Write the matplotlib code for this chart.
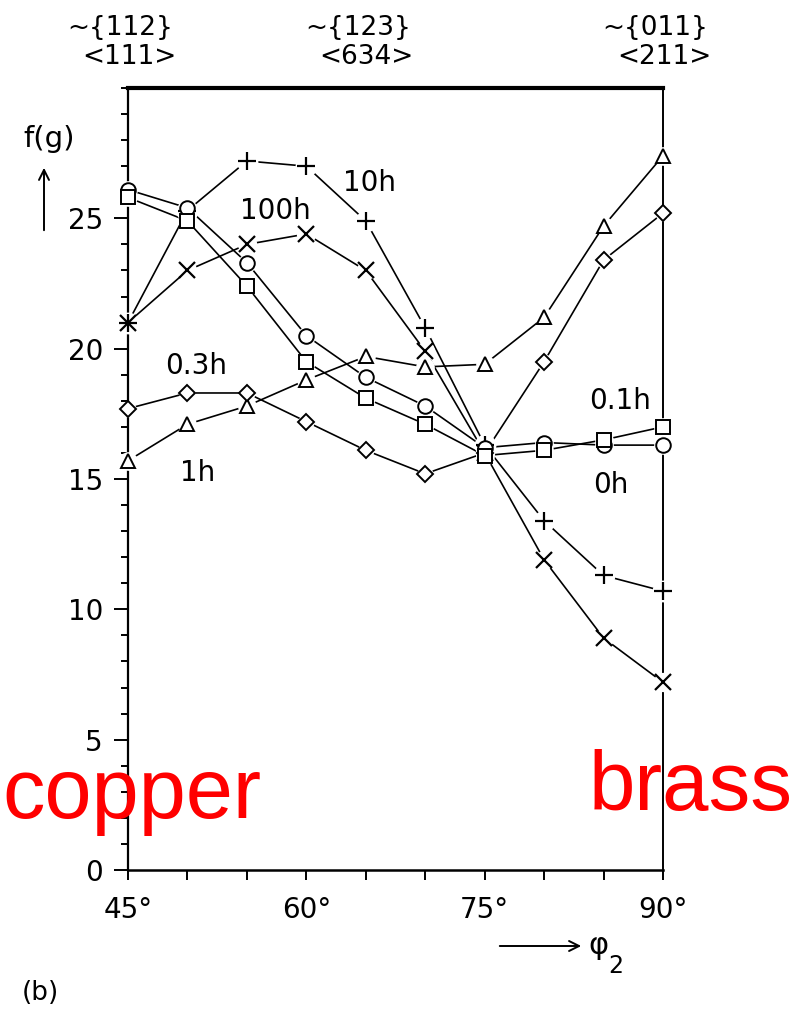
import matplotlib
matplotlib.use("Agg")
import matplotlib.pyplot as plt
from matplotlib.ticker import MultipleLocator, FixedLocator

plt.rcParams['font.family'] = ['DejaVu Sans']

# ---- data ----
phi2 = [45, 50, 55, 60, 65, 70, 75, 80, 85, 90]
f_0h = [26.1, 25.4, 23.3, 20.5, 18.9, 17.8, 16.2, 16.4, 16.3, 16.3]
f_01h = [25.8, 24.9, 22.4, 19.5, 18.1, 17.1, 15.9, 16.1, 16.5, 17.0]
f_03h = [17.7, 18.3, 18.3, 17.2, 16.1, 15.2, 16.0, 19.5, 23.4, 25.2]
f_1h = [15.7, 17.1, 17.8, 18.8, 19.7, 19.3, 19.4, 21.2, 24.7, 27.4]
f_10h = [21.0, 25.3, 27.2, 27.0, 24.9, 20.8, 16.3, 13.4, 11.3, 10.7]
f_100h = [21.0, 23.0, 24.0, 24.4, 23.0, 19.9, 16.0, 11.9, 8.9, 7.2]

x_ticks = [45, 60, 75, 90]
x_ticklabels = ["45°", "60°", "75°", "90°"]
y_ticks = [0, 5, 10, 15, 20, 25]
top_labels = [("~{112}", "<111>", 45), ("~{123}", "<634>", 65), ("~{011}", "<211>", 90)]

W, H = 797, 1013
fig = plt.figure(figsize=(W / 100, H / 100), dpi=100)

def fx(x):
    return x / W

def fy(y):
    return 1 - y / H

ax = fig.add_axes([fx(128), fy(870), fx(663) - fx(128), fy(88) - fy(870)])
ax.set_xlim(45, 90)
ax.set_ylim(0, 30)

series = [
    (f_10h, '+', 13, 1.6),
    (f_100h, 'x', 11, 1.6),
    (f_1h, '^', 10.5, 1.4),
    (f_03h, 'D', 8.5, 1.4),
    (f_0h, 'o', 10.5, 1.4),
    (f_01h, 's', 10.5, 1.4),
]

for vals, m, ms, mew in series:
    ax.plot(phi2, vals, '-', color='black', lw=1.2, zorder=2)
for vals, m, ms, mew in series:
    ax.plot(phi2, vals, linestyle='none', marker='o', ms=ms * 0.9 + 4,
            mfc='white', mec='none', zorder=3, clip_on=False)
for vals, m, ms, mew in series:
    ax.plot(phi2, vals, linestyle='none', marker=m, ms=ms, mfc='white',
            mec='black', mew=mew, zorder=4, clip_on=False)

# spines
ax.spines['top'].set_linewidth(3.0)
ax.spines['right'].set_linewidth(1.4)
ax.spines['left'].set_linewidth(1.6)
ax.spines['bottom'].set_linewidth(1.8)

ax.xaxis.set_major_locator(FixedLocator(x_ticks))
ax.set_xticklabels(x_ticklabels)
ax.xaxis.set_minor_locator(MultipleLocator(5))
ax.yaxis.set_major_locator(FixedLocator(y_ticks))
ax.yaxis.set_minor_locator(MultipleLocator(1))
ax.tick_params(axis='both', which='both', direction='out', width=1.4, labelsize=20)
ax.tick_params(axis='y', which='major', length=10, pad=8)
ax.tick_params(axis='y', which='minor', length=5)
ax.tick_params(axis='x', which='both', length=7, pad=12)

# top labels
for l1, l2, xv in top_labels:
    xp = 128 + (xv - 45) / 45 * (663 - 128)
    fig.text(fx(xp - 8), fy(28), l1, ha='center', va='center', fontsize=19)
    fig.text(fx(xp + 1), fy(57), l2, ha='center', va='center', fontsize=19)

# curve labels
labels = [("10h", 370, 183), ("100h", 275, 211), ("0.3h", 196, 366),
          ("1h", 198, 473), ("0.1h", 620, 401), ("0h", 611, 485)]
for t, xp, yp in labels:
    fig.text(fx(xp), fy(yp), t, ha='center', va='center', fontsize=20)

# y label with arrow
fig.text(fx(49), fy(139), "f(g)", ha='center', va='center', fontsize=21)
fig.patches.append(matplotlib.patches.FancyArrowPatch(
    (fx(44), fy(233)), (fx(44), fy(165)), transform=fig.transFigure,
    arrowstyle='->', mutation_scale=18, lw=1.4, color='black'))

# x label with arrow
fig.patches.append(matplotlib.patches.FancyArrowPatch(
    (fx(497), fy(946)), (fx(584), fy(946)), transform=fig.transFigure,
    arrowstyle='->', mutation_scale=18, lw=1.4, color='black'))
fig.text(fx(598), fy(945), "φ", ha='center', va='center', fontsize=22)
fig.text(fx(616), fy(966), "2", ha='center', va='center', fontsize=17)

fig.text(fx(40), fy(993), "(b)", ha='center', va='center', fontsize=19)

# red annotations
fig.text(fx(2), fy(818), "copper", ha='left', va='baseline', fontsize=61,
         color='red', family='Liberation Sans')
fig.text(fx(589), fy(810), "brass", ha='left', va='baseline', fontsize=60,
         color='red', family='Liberation Sans')

fig.savefig("out.png", dpi=100)
